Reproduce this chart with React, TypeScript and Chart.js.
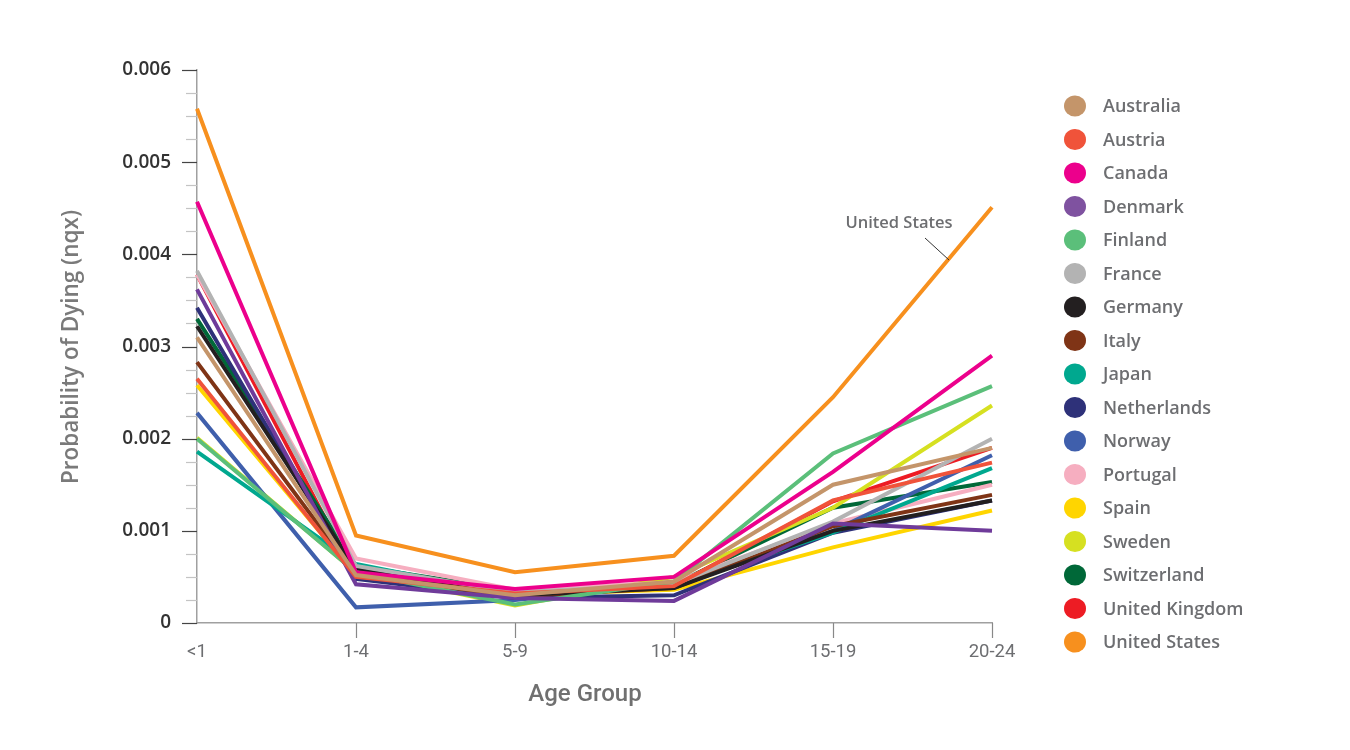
import React, { useEffect, useRef } from "react";
import { Chart, registerables } from "chart.js";

Chart.register(...registerables);

const ageGroups = ["<1", "1-4", "5-9", "10-14", "15-19", "20-24"];

const countries = [
  "Australia", "Austria", "Canada", "Denmark", "Finland", "France", "Germany", "Italy", "Japan",
  "Netherlands", "Norway", "Portugal", "Spain", "Sweden", "Switzerland", "United Kingdom", "United States",
];

const australia = [0.0031, 0.00052, 0.0003, 0.00045, 0.0015, 0.0019];
const austria = [0.00265, 0.0005, 0.00032, 0.0004, 0.00133, 0.00174];
const canada = [0.00457, 0.00055, 0.00037, 0.0005, 0.00164, 0.0029];
const denmark = [0.00362, 0.00042, 0.00027, 0.00024, 0.00108, 0.001];
const finland = [0.002, 0.00055, 0.0002, 0.00045, 0.00184, 0.00257];
const france = [0.00382, 0.00062, 0.00033, 0.00042, 0.0011, 0.002];
const germany = [0.00322, 0.00058, 0.0003, 0.00038, 0.001, 0.00133];
const italy = [0.00283, 0.00052, 0.00029, 0.00038, 0.00105, 0.00139];
const japan = [0.00186, 0.00064, 0.0003, 0.0004, 0.00098, 0.00168];
const netherlands = [0.00342, 0.00048, 0.00027, 0.0003, 0.00098, 0.00133];
const norway = [0.00228, 0.00017, 0.00025, 0.00042, 0.001, 0.00182];
const portugal = [0.00378, 0.0007, 0.00036, 0.00044, 0.00108, 0.0015];
const spain = [0.00258, 0.00052, 0.00031, 0.00036, 0.00082, 0.00122];
const sweden = [0.00201, 0.00055, 0.00019, 0.0005, 0.00125, 0.00236];
const switzerland = [0.0033, 0.00062, 0.00035, 0.00042, 0.00125, 0.00153];
const unitedKingdom = [0.00378, 0.0005, 0.00036, 0.0004, 0.00132, 0.0019];
const unitedStates = [0.00558, 0.00095, 0.00055, 0.00073, 0.00245, 0.00451];

const seriesValues = [
  australia, austria, canada, denmark, finland, france, germany, italy, japan,
  netherlands, norway, portugal, spain, sweden, switzerland, unitedKingdom, unitedStates,
];

const colors = [
  "#c4956a", "#f0533a", "#ec008c", "#6f3b9a", "#5bbf7a", "#b3b3b3", "#231f20", "#7f3416", "#00a88f",
  "#2e3179", "#3f5fac", "#f6aec0", "#ffd500", "#d6e021", "#006838", "#ed1c24", "#f7901e",
];
const legendColors = [
  "#c4956a", "#f0533a", "#ec008c", "#7f52a0", "#5bbf7a", "#b3b3b3", "#231f20", "#7f3416", "#00a88f",
  "#2e3179", "#3f5fac", "#f6aec0", "#ffd500", "#d6e021", "#006838", "#ed1c24", "#f7901e",
];

const yMajorTicks = [0, 0.001, 0.002, 0.003, 0.004, 0.005, 0.006];
const yTitle = "Probability of Dying (nqx)";
const xTitle = "Age Group";
const annotationText = "United States";

const FONT = "'Open Sans', 'Noto Sans', sans-serif";
const NARROW = "'Liberation Sans Narrow', 'Roboto', sans-serif";

const decorPlugin = {
  id: "decor",
  afterDraw(chart: any) {
    const ctx = chart.ctx as CanvasRenderingContext2D;
    const y = chart.scales.y;
    const x = chart.scales.x;
    const area = chart.chartArea;
    ctx.save();
    // y ticks
    for (let i = 0; i <= 24; i++) {
      const v = i * 0.00025;
      const py = Math.round(y.getPixelForValue(v)) + 0.5;
      const major = i % 4 === 0;
      ctx.strokeStyle = major ? "#444" : "#c4c4c4";
      ctx.lineWidth = 1.2;
      ctx.beginPath();
      ctx.moveTo(area.left - (major ? 15 : 11), py);
      ctx.lineTo(area.left, py);
      ctx.stroke();
    }
    // x ticks
    for (let i = 1; i < ageGroups.length; i++) {
      const px = Math.round(x.getPixelForValue(i)) + 0.5;
      ctx.strokeStyle = "#888";
      ctx.lineWidth = 1.2;
      ctx.beginPath();
      ctx.moveTo(px, area.bottom);
      ctx.lineTo(px, area.bottom + 15);
      ctx.stroke();
    }
    // axis titles
    ctx.fillStyle = "#7a7a7a";
    ctx.font = `600 22.5px ${FONT}`;
    ctx.textAlign = "center";
    ctx.textBaseline = "middle";
    ctx.save();
    ctx.translate(72, 347);
    ctx.rotate(-Math.PI / 2);
    ctx.fillText(yTitle, 0, 0);
    ctx.restore();
    ctx.font = `500 24px ${NARROW}`;
    ctx.fillStyle = "#707070";
    ctx.fillText(xTitle, 585, 695);
    // legend
    ctx.textAlign = "left";
    ctx.font = `600 18px ${FONT}`;
    countries.forEach((name, i) => {
      const cy = 106 + i * 33.5;
      ctx.fillStyle = legendColors[i];
      ctx.beginPath();
      ctx.ellipse(1075, cy, 11, 10.5, 0, 0, Math.PI * 2);
      ctx.fill();
      ctx.fillStyle = "#6d6e71";
      ctx.fillText(name, 1103, cy + 1);
    });
    // annotation
    ctx.font = `600 16.5px ${FONT}`;
    ctx.fillStyle = "#6d6e71";
    ctx.textAlign = "center";
    ctx.fillText(annotationText, 899, 223);
    ctx.strokeStyle = "#333";
    ctx.lineWidth = 1;
    ctx.beginPath();
    ctx.moveTo(925, 238);
    ctx.lineTo(949, 260);
    ctx.stroke();
    ctx.restore();
  },
};

export default function App() {
  const ref = useRef<HTMLCanvasElement | null>(null);
  useEffect(() => {
    document.body.style.margin = "0";
    if (!ref.current) return;
    const chart = new Chart(ref.current, {
      type: "line",
      data: {
        labels: ageGroups,
        datasets: countries.map((c, i) => ({
          label: c,
          data: seriesValues[i],
          borderColor: colors[i],
          backgroundColor: colors[i],
          borderWidth: 4,
          pointRadius: 0,
          tension: 0,
          fill: false,
        })),
      },
      options: {
        animation: false,
        responsive: false,
        events: [],
        layout: { padding: { left: 0, top: 70, right: 358, bottom: 0 } },
        plugins: { legend: { display: false }, tooltip: { enabled: false } },
        scales: {
          x: {
            type: "category",
            offset: false,
            grid: { display: false, drawTicks: false },
            border: { display: true, color: "#a0a0a0", width: 1.5 },
            ticks: {
              color: "#6d6e71",
              font: { family: NARROW, size: 18.5 },
              padding: 18,
              maxRotation: 0,
              autoSkip: false,
            },
            afterFit(scale: any) {
              scale.height = 127;
            },
          },
          y: {
            min: 0,
            max: 0.006,
            grid: { display: false, drawTicks: false },
            border: { display: true, color: "#a0a0a0", width: 1.5 },
            ticks: {
              stepSize: 0.001,
              color: "#333",
              font: { family: FONT, size: 19, weight: 600 as any },
              padding: 26,
              callback: (v: any) => {
                const n = Number(v);
                const m = yMajorTicks.find((t) => Math.abs(t - n) < 1e-9);
                if (m === undefined) return "";
                return m === 0 ? "0" : m.toFixed(3);
              },
            },
            afterFit(scale: any) {
              scale.width = 197;
            },
          },
        },
      },
      plugins: [decorPlugin],
    });
    return () => chart.destroy();
  }, []);
  return (
    <div style={{ position: "fixed", left: 0, top: 0, width: 1350, height: 750, background: "#fff" }}>
      <canvas ref={ref} width={1350} height={750} />
    </div>
  );
}
